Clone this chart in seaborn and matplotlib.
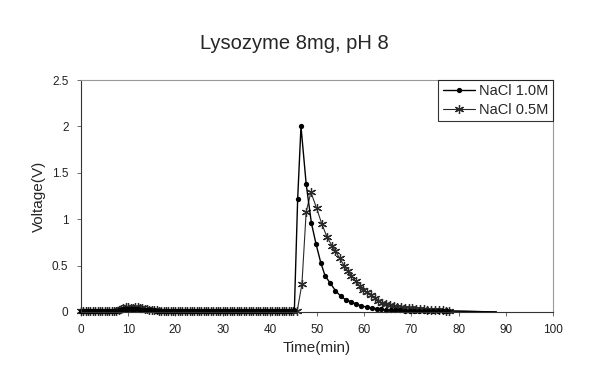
import matplotlib.pyplot as plt
import seaborn as sns

sns.set_style("white")
plt.rcParams["font.family"] = ["Liberation Sans", "DejaVu Sans"]

# baseline sampling (min), shared by both runs
time_base = [0, 0.5, 1, 1.5, 2, 2.5, 3, 3.5, 4, 4.5, 5, 5.5, 6, 6.5, 7, 7.5, 8, 8.5,
             9, 9.5, 10, 10.5, 11, 11.5, 12, 12.5, 13, 13.5, 14, 14.5, 15, 15.5, 16,
             16.5, 17, 17.5, 18, 18.5, 19, 19.5, 20, 20.5, 21, 21.5, 22, 22.5, 23,
             23.5, 24, 24.5, 25, 25.5, 26, 26.5, 27, 27.5, 28, 28.5, 29, 29.5, 30,
             30.5, 31, 31.5, 32, 32.5, 33, 33.5, 34, 34.5, 35, 35.5, 36, 36.5, 37,
             37.5, 38, 38.5, 39, 39.5, 40, 40.5, 41, 41.5, 42, 42.5, 43, 43.5, 44,
             44.5]

# NaCl 1.0M
volt_base_1m = [0.01, 0.01, 0.01, 0.01, 0.01, 0.01, 0.01, 0.01, 0.01, 0.01, 0.01,
                0.01, 0.01, 0.01, 0.01, 0.01, 0.02, 0.02, 0.03, 0.03, 0.03, 0.03,
                0.03, 0.03, 0.03, 0.02, 0.02, 0.02, 0.02, 0.02, 0.02, 0.02, 0.01,
                0.01, 0.01, 0.01, 0.01, 0.01, 0.01, 0.01, 0.01, 0.01, 0.01, 0.01,
                0.01, 0.01, 0.01, 0.01, 0.01, 0.01, 0.01, 0.01, 0.01, 0.01, 0.01,
                0.01, 0.01, 0.01, 0.01, 0.01, 0.01, 0.01, 0.01, 0.01, 0.01, 0.01,
                0.01, 0.01, 0.01, 0.01, 0.01, 0.01, 0.01, 0.01, 0.01, 0.01, 0.01,
                0.01, 0.01, 0.01, 0.01, 0.01, 0.01, 0.01, 0.01, 0.01, 0.01, 0.01,
                0.01, 0.01]
time_peak_1m = [45.2, 45.9, 46.6, 47.7, 48.8, 49.8, 50.8, 51.7, 52.8, 53.9, 55.0,
                56.1, 57.2, 58.3, 59.4, 60.5, 61.6, 62.6, 63.6, 64.6, 65.6, 66.6,
                67.6, 68.6, 69.6, 70.6, 71.6, 72.6, 73.6, 74.6, 75.6, 76.6, 77.6,
                88.0]
volt_peak_1m = [0.02, 1.22, 2.00, 1.38, 0.96, 0.73, 0.53, 0.39, 0.31, 0.23, 0.17,
                0.13, 0.11, 0.085, 0.065, 0.052, 0.042, 0.035, 0.028, 0.022, 0.02,
                0.018, 0.016, 0.015, 0.014, 0.013, 0.012, 0.012, 0.011, 0.011, 0.01,
                0.01, 0.01, 0.0]

# NaCl 0.5M
volt_base_05m = [0.01, 0.01, 0.01, 0.01, 0.01, 0.01, 0.01, 0.01, 0.01, 0.01, 0.01,
                 0.01, 0.01, 0.01, 0.01, 0.01, 0.02, 0.03, 0.04, 0.05, 0.05, 0.04,
                 0.04, 0.05, 0.05, 0.04, 0.04, 0.03, 0.03, 0.02, 0.02, 0.02, 0.02,
                 0.01, 0.01, 0.01, 0.01, 0.01, 0.01, 0.01, 0.01, 0.01, 0.01, 0.01,
                 0.01, 0.01, 0.01, 0.01, 0.01, 0.01, 0.01, 0.01, 0.01, 0.01, 0.01,
                 0.01, 0.01, 0.01, 0.01, 0.01, 0.01, 0.01, 0.01, 0.01, 0.01, 0.01,
                 0.01, 0.01, 0.01, 0.01, 0.01, 0.01, 0.01, 0.01, 0.01, 0.01, 0.01,
                 0.01, 0.01, 0.01, 0.01, 0.01, 0.01, 0.01, 0.01, 0.01, 0.01, 0.01,
                 0.01, 0.01]
time_peak_05m = [45.0, 45.8, 46.8, 47.7, 48.7, 49.9, 51.0, 52.1, 53.2, 53.8, 54.8,
                 55.7, 56.5, 57.3, 58.2, 59.0, 59.8, 60.6, 61.4, 62.2, 63.0, 63.8,
                 64.6, 65.4, 66.2, 67.0, 67.8, 68.6, 69.4, 70.2, 71.0, 71.8, 72.6,
                 73.4, 74.2, 75.0, 75.8, 76.6, 77.4, 78.0, 88.0]
volt_peak_05m = [0.01, 0.01, 0.30, 1.08, 1.29, 1.12, 0.95, 0.81, 0.71, 0.66, 0.58,
                 0.50, 0.44, 0.39, 0.33, 0.28, 0.24, 0.21, 0.18, 0.15, 0.12, 0.10,
                 0.085, 0.075, 0.065, 0.058, 0.052, 0.047, 0.043, 0.04, 0.036,
                 0.032, 0.028, 0.025, 0.022, 0.02, 0.018, 0.016, 0.014, 0.012, 0.0]

x_ticks = [0, 10, 20, 30, 40, 50, 60, 70, 80, 90, 100]
y_ticks = [0, 0.5, 1, 1.5, 2, 2.5]
y_tick_labels = ["0", "0.5", "1", "1.5", "2", "2.5"]

time_1m = time_base + time_peak_1m
volt_1m = volt_base_1m + volt_peak_1m
time_05m = time_base + time_peak_05m
volt_05m = volt_base_05m + volt_peak_05m

fig = plt.figure(figsize=(5.89, 3.74), dpi=100)
ax = fig.add_axes([0.1375, 0.166, 0.8015, 0.620])

sns.lineplot(x=time_05m, y=volt_05m, ax=ax, color="#2a2a2a", linewidth=0.8,
             marker=(6, 2, 0), markersize=6.5, markeredgewidth=0.9,
             markeredgecolor="#2a2a2a",
             markevery=list(range(len(time_05m) - 1)), clip_on=False,
             sort=False, estimator=None, label="NaCl 0.5M")
sns.lineplot(x=time_1m, y=volt_1m, ax=ax, color="black", linewidth=1.0,
             marker="o", markersize=3.8, markeredgewidth=0,
             markevery=list(range(len(time_1m) - 1)), clip_on=False,
             sort=False, estimator=None, label="NaCl 1.0M")

ax.set_xlim(0, 100)
ax.set_ylim(0, 2.5)
ax.set_xticks(x_ticks)
ax.set_xticklabels([str(v) for v in x_ticks], fontsize=8.5)
ax.set_yticks(y_ticks)
ax.set_yticklabels(y_tick_labels, fontsize=8.5)
ax.tick_params(axis="both", direction="out", length=3, width=0.6,
               color="#555555", pad=6, labelcolor="#222222")
ax.tick_params(axis="x", bottom=True)
ax.tick_params(axis="y", left=True)

for side in ["left", "bottom"]:
    ax.spines[side].set_color("#333333")
    ax.spines[side].set_linewidth(0.8)
for side in ["top", "right"]:
    ax.spines[side].set_color("#999999")
    ax.spines[side].set_linewidth(0.8)
    ax.spines[side].set_linestyle((0, (3, 1)))

ax.set_xlabel("Time(min)", fontsize=11, labelpad=3)
ax.set_ylabel("Voltage(V)", fontsize=11, labelpad=4)

fig.text(0.5, 0.885, "Lysozyme 8mg, pH 8", ha="center", va="center", fontsize=14.5)

# legend order: 1.0M first, as in the reference
handles, labels = ax.get_legend_handles_labels()
leg = ax.legend(handles[::-1], labels[::-1], loc="upper right", fontsize=10.5,
                frameon=True, fancybox=False, borderaxespad=0, handlelength=2.2,
                handletextpad=0.3, borderpad=0.3, labelspacing=0.3)
leg.get_frame().set_edgecolor("black")
leg.get_frame().set_linewidth(0.8)

fig.savefig("out.png", dpi=100)
